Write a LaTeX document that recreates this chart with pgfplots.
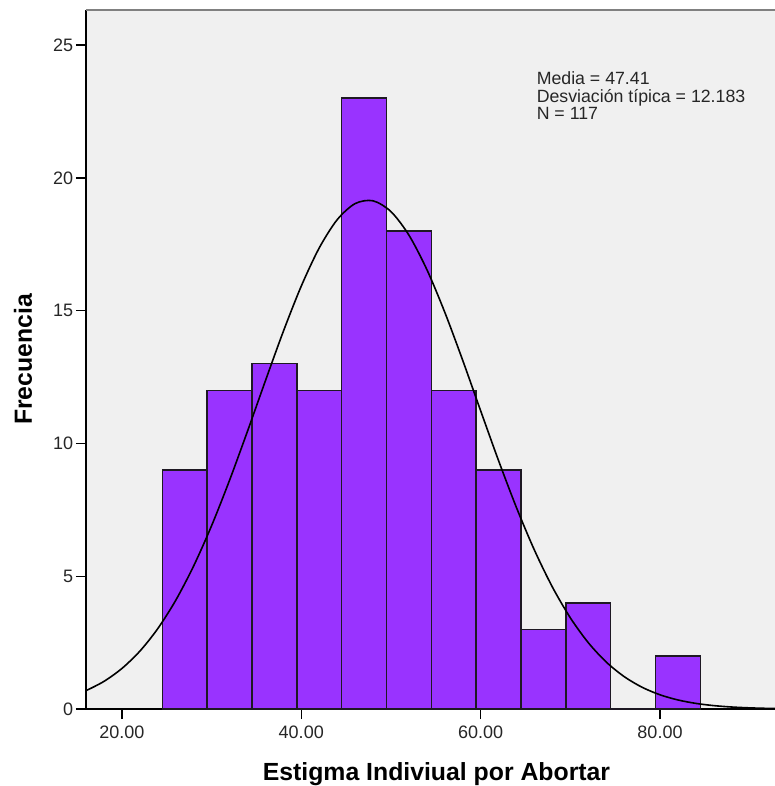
\documentclass[border=0pt]{standalone}
\usepackage{fontspec}
\setmainfont{Liberation Sans}
\usepackage{pgfplots}
\pgfplotsset{compat=1.18}
\definecolor{barpurple}{RGB}{153,51,255}
\definecolor{bggray}{RGB}{240,240,240}
\definecolor{edgecol}{RGB}{30,25,35}
\begin{document}
\begin{tikzpicture}
\path[use as bounding box] (-64.5pt,-57.75pt) rectangle (516.75pt,531.75pt);
\begin{axis}[
  at={(0,0)}, anchor=south west,
  scale only axis,
  width=516.75pt, height=524.25pt,
  xmin=16, xmax=92.82, ymin=0, ymax=26.32,
  axis x line*=bottom, axis y line*=left,
  axis line style={-, black, line width=1pt},
  axis background/.style={fill=bggray},
  xtick={20,40,60,80},
  ytick={0,5,10,15,20,25},
  tick align=outside,
  major tick length=7.5pt,
  tick style={black, line width=1pt},
  /pgf/number format/assume math mode=true,
  xticklabel style={font=\fontsize{13.5}{16}\selectfont, text=black!85, yshift=-2pt, /pgf/number format/.cd, fixed, fixed zerofill, precision=2},
  yticklabel style={font=\fontsize{13.5}{16}\selectfont, text=black!85, inner sep=2pt},
  xlabel={Estigma Indiviual por Abortar},
  ylabel={Frecuencia},
  xlabel style={font=\bfseries\fontsize{18.6}{22}\selectfont, at={(axis description cs:0.5087,-0.1016)}, anchor=base},
  ylabel style={font=\bfseries\fontsize{18.6}{22}\selectfont, at={(axis description cs:-0.0784,0.5)}, anchor=base},
  clip=true,
]
\addplot[ybar interval, fill=barpurple, draw=edgecol, line width=1.1pt] coordinates {
  (24.5,9) (29.5,12) (34.5,13) (39.5,12) (44.5,23) (49.5,18) (54.5,12)
  (59.5,9) (64.5,3) (69.5,4) (74.5,0) (79.5,2) (84.5,2)
};
\addplot[smooth, black, line width=1.2pt, mark=none] coordinates {
  (16,0.690) (18,1.039) (20,1.525) (22,2.176) (24,3.025) (26,4.090)
  (28,5.384) (30,6.900) (32,8.608) (34,10.453) (36,12.355) (38,14.216)
  (40,15.922) (42,17.358) (44,18.421) (46,19.029) (48,19.135)
  (50,18.729) (52,17.845) (54,16.550) (56,14.941) (58,13.130) (60,11.231)
  (62,9.352) (64,7.580) (66,5.981) (68,4.593) (70,3.434) (72,2.499)
  (74,1.770) (76,1.220) (78,0.819) (80,0.535) (82,0.340) (84,0.211)
  (86,0.127) (88,0.0745) (90,0.0425) (92,0.0236) (94,0.0127)
};
\draw[gray, line width=1.2pt] (rel axis cs:0,1) -- (rel axis cs:1,1);
\node[anchor=base west, inner sep=0pt, font=\fontsize{13.3}{16}\selectfont, text=black!85] at (axis cs:66.23,23.53) {Media = 47.41};
\node[anchor=base west, inner sep=0pt, font=\fontsize{13.3}{16}\selectfont, text=black!85] at (axis cs:66.23,22.85) {Desviación típica = 12.183};
\node[anchor=base west, inner sep=0pt, font=\fontsize{13.3}{16}\selectfont, text=black!85] at (axis cs:66.23,22.18) {N = 117};
\end{axis}
\end{tikzpicture}
\end{document}
